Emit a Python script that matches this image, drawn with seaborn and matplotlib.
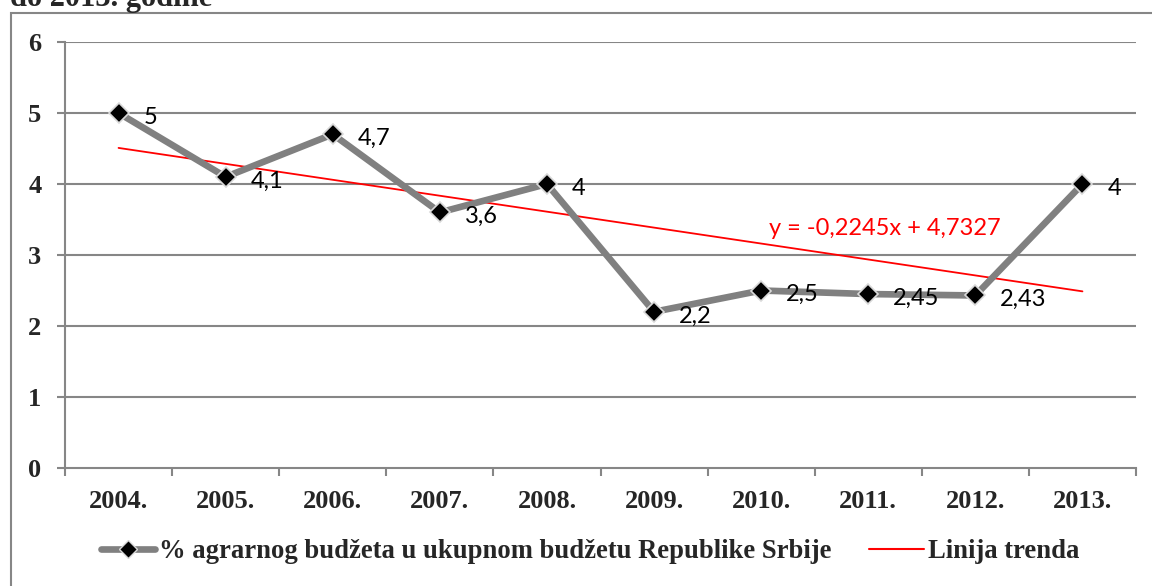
import numpy as np
import pandas as pd
import seaborn as sns
import matplotlib.pyplot as plt
from matplotlib.lines import Line2D
from matplotlib.patches import Rectangle

# data
years = ["2004.", "2005.", "2006.", "2007.", "2008.", "2009.", "2010.", "2011.", "2012.", "2013."]
share = [5, 4.1, 4.7, 3.6, 4, 2.2, 2.5, 2.45, 2.43, 4]
labels = ["5", "4,1", "4,7", "3,6", "4", "2,2", "2,5", "2,45", "2,43", "4"]
y_ticks = [0, 1, 2, 3, 4, 5, 6]
series_name = "% agrarnog budžeta u ukupnom budžetu Republike Srbije"
trend_name = "Linija trenda"
equation = "y = -0,2245x + 4,7327"

df = pd.DataFrame({"pos": np.arange(len(years)), "share": share})

sns.set_style("white")
plt.rcParams['font.family'] = ['Liberation Serif', 'DejaVu Serif']

fig = plt.figure(figsize=(11.52, 5.86), dpi=100)
ax = fig.add_axes([65/1152, 1 - 468/586, (1136-65)/1152, (468-42)/586])

grey = "#868686"

# outer border of the chart object (cut off at right and bottom)
fig.patches.append(Rectangle((11/1152, -0.2), 1.2, 0.2 + (586-13)/586, transform=fig.transFigure,
                             fill=False, edgecolor=grey, lw=1.5))
# title of the figure, cut by the top of the picture as in the source
fig.text(10/1152, 1 - 6/586, "do 2013. godine", fontsize=22, fontweight="bold",
         ha="left", va="baseline")

for t in y_ticks[1:]:
    ax.axhline(t, color=grey, lw=1.5, zorder=0)

sns.lineplot(data=df, x="pos", y="share", ax=ax, color="#808080", lw=4.8,
             marker="D", markersize=10, markerfacecolor="black",
             markeredgecolor="#d9d9d9", markeredgewidth=1.2, zorder=3)

# linear trend of the series
sns.regplot(data=df, x="pos", y="share", ax=ax, scatter=False, ci=None, truncate=True,
            color="red", line_kws={"lw": 1.3, "zorder": 2})

for p, v, lab in zip(df["pos"], share, labels):
    ax.annotate(lab, (p, v), xytext=(18, -3), textcoords="offset points",
                ha="left", va="center", fontsize=17, family="Lato", color="black", zorder=4)

ax.text(6.07, 3.37, equation, color="red", fontsize=17, family="Lato", ha="left", va="center")

ax.set_xlim(-0.5, 9.5)
ax.set_ylim(0, 6)
ax.set_yticks(y_ticks)
ax.set_xticks(df["pos"])
ax.set_xticklabels(years)
ax.set_xticks(np.arange(-0.5, 10, 1), minor=True)
ax.tick_params(axis="x", which="major", length=0, pad=16, labelsize=19)
ax.tick_params(axis="x", which="minor", length=6, color=grey, width=1.5, direction="out", bottom=True)
ax.tick_params(axis="y", length=6, color=grey, width=1.5, direction="out", left=True, pad=11, labelsize=19)
for lab in ax.get_xticklabels() + ax.get_yticklabels():
    lab.set_fontweight("bold")
ax.set_xlabel("")
ax.set_ylabel("")

for s in ["top", "right"]:
    ax.spines[s].set_visible(False)
for s in ["left", "bottom"]:
    ax.spines[s].set_color(grey)
    ax.spines[s].set_linewidth(1.5)

handles = [
    Line2D([], [], color="#808080", lw=4.8, marker="D", markersize=9,
           markerfacecolor="black", markeredgecolor="#d9d9d9"),
    Line2D([], [], color="red", lw=1.5),
]
fig.legend(handles, [series_name, trend_name], loc="center", bbox_to_anchor=(590/1152, 1 - 552/586),
           ncol=2, frameon=False, handlelength=2.05, handletextpad=0.15, columnspacing=1.4,
           prop={"family": "Liberation Serif", "weight": "bold", "size": 19.2})

fig.savefig("out.png", dpi=100)
